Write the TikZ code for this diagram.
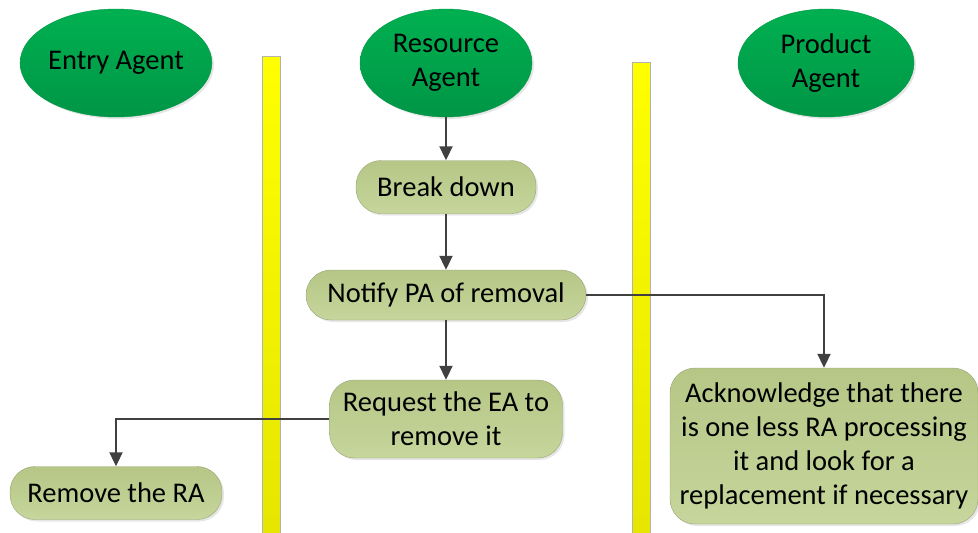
\documentclass[tikz,border=0pt]{standalone}
\usepackage{fontspec}
\setmainfont{Carlito}
\usetikzlibrary{shapes.geometric, arrows.meta, positioning, calc, shadows}
\definecolor{agentgreen}{RGB}{0,176,80}
\definecolor{agentdark}{RGB}{0,150,70}
\definecolor{steptop}{RGB}{181,198,134}
\definecolor{stepbot}{RGB}{198,214,156}
\definecolor{stepline}{RGB}{150,165,115}
\definecolor{arrowgray}{RGB}{64,64,64}
\begin{document}
\begin{tikzpicture}[x=1pt,y=-1pt,
				agent/.style={ellipse,draw=agentdark,top color=agentgreen,bottom color=agentdark,align=center,minimum width=176pt,minimum height=108pt,inner sep=0pt,font=\fontsize{28.5}{34}\selectfont,drop shadow={opacity=0.2,shadow xshift=2pt,shadow yshift=-2pt}},
				act/.style={draw=stepline,rounded corners=25pt,top color=steptop,bottom color=stepbot,align=center,inner sep=0pt,font=\fontsize{28.5}{34}\selectfont,drop shadow={opacity=0.2,shadow xshift=2pt,shadow yshift=-2pt}},
				lane/.style={draw=black!30,top color=yellow,bottom color=yellow!90!black,minimum width=18pt,inner sep=0pt},
				arr/.style={-{Triangle[length=14pt,width=13pt]},line width=2pt,draw=arrowgray}
			]
			\useasboundingbox (0,0) rectangle (978,533);
			\node[lane,minimum height=477pt] (lane1) at (271,294.5) {};
			\node[lane,minimum height=471pt] (lane2) at (641,297.5) {};
			\node[agent] (ea) at (116,63) {Entry Agent};
			\node[agent,minimum width=172pt] (ra) at (446,63) {Resource\\Agent};
			\node[agent] (pa) at (826,63) {Product\\Agent};
			\node[act,minimum width=180pt,minimum height=53pt] (brk) at (446,187) {Break down};
			\node[act,minimum width=280pt,minimum height=50pt] (notify) at (446,295) {Notify PA of removal};
			\node[act,minimum width=233pt,minimum height=78pt] (req) at (446,419) {Request the EA to\\remove it};
			\node[act,minimum width=212pt,minimum height=53pt] (remove) at (116,493) {Remove the RA};
			\node[act,minimum width=308pt,minimum height=156pt] (ack) at (824,446) {Acknowledge that there\\is one less RA processing\\it and look for a\\replacement if necessary};
			\draw[arr] (ra) -- (brk);
			\draw[arr] (brk) -- (notify);
			\draw[arr] (notify) -- (req);
			\draw[arr] (notify.east) -| (ack.north);
			\draw[arr] (req.west) -| (remove.north);
			\end{tikzpicture}
\end{document}
